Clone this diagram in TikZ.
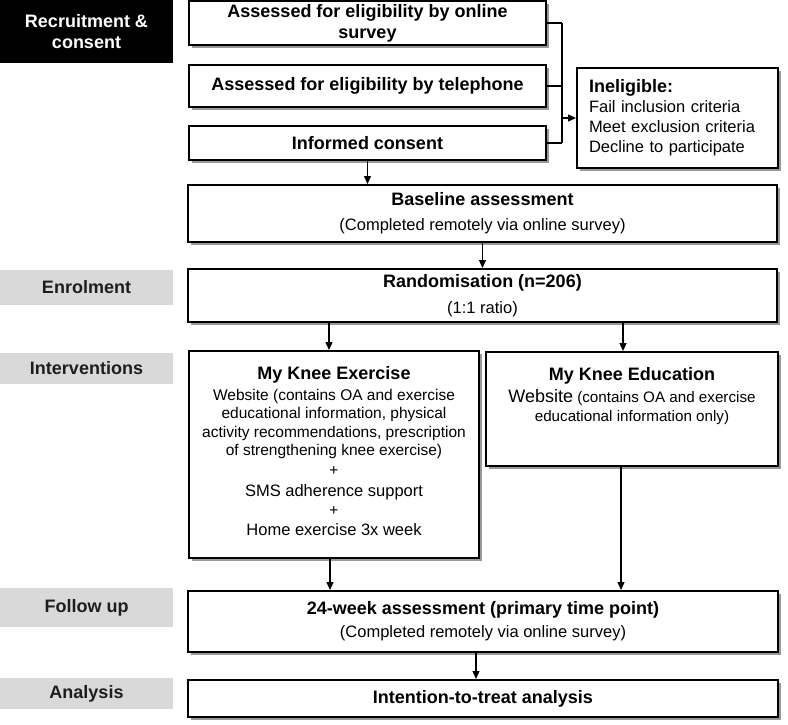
\documentclass[tikz,border=0pt]{standalone}
\usepackage{fontspec}
\setmainfont{Liberation Sans}
\usetikzlibrary{shadows,arrows.meta,calc}
\definecolor{labgray}{RGB}{217,217,217}
\definecolor{labtext}{RGB}{30,30,30}
\newcommand{\myB}{\fontsize{18}{21}\selectfont\bfseries}
\newcommand{\myR}{\fontsize{16.5}{20}\selectfont}
\newcommand{\myS}{\fontsize{15.5}{18.3}\selectfont}
\begin{document}
\begin{tikzpicture}[x=1pt,y=-1pt,
  box/.style={draw=black, line width=2pt, fill=white, inner sep=0pt, align=center,
    drop shadow={shadow xshift=3pt,shadow yshift=-3pt,fill=black!40,opacity=1}},
  lab/.style={fill=labgray, inner sep=0pt, align=center, font=\myB, text=labtext,
    minimum width=173pt},
  txt/.style={inner sep=0pt, align=center},
  arr/.style={line width=1.3pt, -{Triangle[length=8pt,width=7pt]}},
  ln/.style={line width=1.3pt},
]
\useasboundingbox (0,0) rectangle (788,724);

% stage labels
\node[lab, fill=black, text=white, minimum height=63pt] (lrec) at (86.5,31.5) {Recruitment \&\\consent};
\node[lab, minimum height=35pt] (lenr) at (86.5,287.5) {Enrolment};
\node[lab, minimum height=31pt] (lint) at (86.5,368.5) {Interventions};
\node[lab, minimum height=39pt] (lfol) at (86.5,607.5) {Follow up};
\node[lab, minimum height=31pt] (lana) at (86.5,693.5) {Analysis};

% recruitment boxes
\node[box, font=\myB, minimum width=357pt, minimum height=44pt] (online) at (367.5,23)
  {Assessed for eligibility by online\\survey};
\node[box, font=\myB, minimum width=357pt, minimum height=42pt] (tel) at (367.5,86)
  {Assessed for eligibility by telephone};
\node[box, font=\myB, minimum width=357pt, minimum height=34pt] (cons) at (367.5,143)
  {Informed consent};
\node[box, font=\myR, align=left, text width=177pt, inner xsep=12pt, minimum width=201pt,
  minimum height=100pt] (inel) at (677.5,118)
  {{\myB Ineligible:}\\Fail inclusion criteria\\Meet exclusion criteria\\Decline to participate};

% baseline and randomisation
\node[box, font=\fontsize{16.5}{25}\selectfont, minimum width=589pt, minimum height=57pt] (base) at (482.5,213.5)
  {{\myB Baseline assessment}\\(Completed remotely via online survey)};
\node[box, font=\fontsize{16.5}{26}\selectfont, minimum width=589pt, minimum height=53pt] (rand) at (482.5,295.5)
  {{\myB Randomisation (n=206)}\\(1:1 ratio)};

% interventions
\node[box, minimum width=290pt, minimum height=207pt] (ex) at (334,454.5) {};
\node[txt, font=\myS, anchor=north] (ext) at ([yshift=-16pt]ex.north)
  {{\myB My Knee Exercise}\\[3pt]
   Website (contains OA and exercise\\
   educational information, physical\\
   activity recommendations, prescription\\
   of strengthening knee exercise)\\[1.5pt]
   +\\[3pt]
   {\fontsize{16.5}{18.3}\selectfont SMS adherence support}\\[1pt]
   +\\[1.5pt]
   {\fontsize{16.5}{18.3}\selectfont Home exercise 3x week}};
\node[box, minimum width=292pt, minimum height=114pt] (ed) at (632,409) {};
\node[txt, font=\fontsize{15.2}{19}\selectfont, anchor=north] (edt) at ([yshift=-16pt]ed.north)
  {{\myB My Knee Education}\\[3pt]
   {\fontsize{18}{19}\selectfont Website} (contains OA and exercise\\
   educational information only)};

% follow up and analysis
\node[box, font=\fontsize{16.5}{23}\selectfont, minimum width=590pt, minimum height=61pt] (fu) at (483,621.5)
  {{\myB 24-week assessment (primary time point)}\\(Completed remotely via online survey)};
\node[box, font=\myB, minimum width=590pt, minimum height=37pt] (an) at (483,698.5)
  {Intention-to-treat analysis};

% bracket to ineligible
\coordinate (bx) at (562,0);
\draw[ln] (online.east) -- (online.east -| bx);
\draw[ln] (tel.east) -- (tel.east -| bx);
\draw[ln] (cons.east) -- (cons.east -| bx);
\draw[ln] (online.east -| bx) -- (cons.east -| bx);
\draw[arr] (inel.west -| bx) -- (inel.west);

% vertical flow arrows
\draw[arr] (cons.south) -- (cons.south |- base.north);
\draw[arr] (base.south) -- (base.south |- rand.north);
\draw[arr] ([xshift=-5pt]ex.north |- rand.south) -- ([xshift=-5pt]ex.north);
\draw[arr] ([xshift=-9pt]ed.north |- rand.south) -- ([xshift=-9pt]ed.north);
\draw[arr] ([xshift=-4pt]ex.south) -- ([xshift=-4pt]ex.south |- fu.north);
\draw[arr] ([xshift=-11pt]ed.south) -- ([xshift=-11pt]ed.south |- fu.north);
\draw[arr] ([xshift=-7pt]fu.south) -- ([xshift=-7pt]fu.south |- an.north);
\end{tikzpicture}
\end{document}
